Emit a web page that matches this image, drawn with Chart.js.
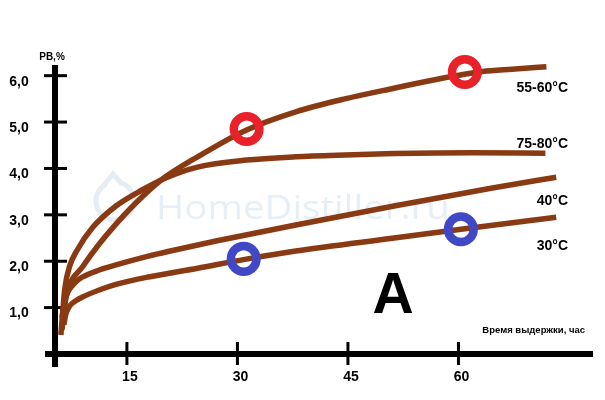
<!DOCTYPE html>
<html>
<head>
<meta charset="utf-8">
<script src="https://cdn.jsdelivr.net/npm/chart.js@4.4.0/dist/chart.umd.min.js"></script>
<style>
  html, body { margin: 0; padding: 0; background: #fff; }
  #wrap { width: 605px; height: 400px; }
</style>
</head>
<body>
<div id="wrap"><canvas id="chart" width="605" height="400"></canvas></div>
<script>
// ticks
const xTicks = [15, 30, 45, 60];
const yTicks = [1, 2, 3, 4, 5, 6];

// curves (hours / RB %)
const hours5560 = [6.18, 6.58, 6.98, 8.98, 11.24, 13.51, 16.18, 19.65, 24.59, 31.25, 37.92, 44.59, 51.26, 57.98, 63.27, 67.27, 71.94];
const rb5560 = [0.52, 1.06, 1.38, 1.88, 2.37, 2.8, 3.25, 3.75, 4.25, 4.83, 5.22, 5.5, 5.73, 5.95, 6.09, 6.14, 6.19];

const hours7580 = [6.04, 6.31, 6.58, 7.24, 8.18, 10.31, 13.51, 16.98, 20.18, 24.59, 31.25, 37.92, 44.59, 51.26, 61.93, 71.8];
const rb7580 = [0.41, 0.95, 1.42, 1.9, 2.22, 2.72, 3.19, 3.53, 3.79, 4.03, 4.18, 4.25, 4.29, 4.32, 4.34, 4.33];

const hours40 = [6.18, 6.58, 7.91, 8.98, 11.24, 13.51, 17.91, 20.58, 27.25, 37.92, 51.26, 64.6, 73.27];
const rb40 = [0.78, 1.16, 1.53, 1.66, 1.81, 1.92, 2.11, 2.21, 2.44, 2.78, 3.19, 3.58, 3.81];

const hours30 = [6.44, 6.71, 7.24, 8.18, 8.98, 11.24, 13.51, 17.91, 24.59, 31.0, 37.92, 51.26, 60.33, 73.27];
const rb30 = [0.63, 0.86, 1.04, 1.16, 1.23, 1.38, 1.5, 1.66, 1.85, 2.04, 2.22, 2.5, 2.69, 2.95];

// marked points
const redHours = [31.25, 60.87];
const redRb = [4.85, 6.08];
const blueHours = [30.85, 60.33];
const blueRb = [2.05, 2.69];

const curveLabels = ["55-60°C", "75-80°C", "40°C", "30°C"];

function zip(xs, ys) {
  return xs.map((x, i) => ({ x: x, y: ys[i] }));
}

const brown = "#8a3a12";
const font = "'Liberation Sans', Arial, sans-serif";

function curve(xs, ys) {
  return {
    type: "line",
    data: zip(xs, ys),
    borderColor: brown,
    borderWidth: 5.5,
    pointRadius: 0,
    cubicInterpolationMode: "monotone",
    fill: false,
    order: 1,
    clip: false,
  };
}

function ring(xs, ys, color) {
  return {
    type: "scatter",
    data: zip(xs, ys),
    pointRadius: 12.8,
    pointBorderWidth: 8.5,
    pointBackgroundColor: "rgba(0,0,0,0)",
    pointBorderColor: color,
    showLine: false,
    order: 0,
    clip: false,
  };
}

const axesPlugin = {
  id: "axesPlugin",
  beforeDraw(chart) {
    const ctx = chart.ctx;
    ctx.save();
    ctx.fillStyle = "#fff";
    ctx.fillRect(0, 0, chart.width, chart.height);
    // watermark
    ctx.strokeStyle = "#e4ecf4";
    ctx.lineWidth = 5;
    ctx.beginPath();
    ctx.arc(115, 201, 19, -1.25, Math.PI + 1.1);
    ctx.stroke();
    ctx.beginPath();
    ctx.moveTo(103, 186);
    ctx.lineTo(113, 174);
    ctx.lineTo(122, 184);
    ctx.stroke();
    ctx.fillStyle = "#e6eef6";
    ctx.font = "32px 'Open Sans', sans-serif";
    ctx.textBaseline = "alphabetic";
    ctx.textAlign = "left";
    ctx.translate(156, 219);
    ctx.scale(1.2, 1);
    ctx.fillText("HomeDistiller.ru", 0, 0);
    ctx.restore();
  },
  beforeDatasetsDraw(chart) {
    const ctx = chart.ctx;
    const xs = chart.scales.x;
    const ys = chart.scales.y;
    const x0 = chart.chartArea.left;
    const y0 = ys.getPixelForValue(0);
    ctx.save();
    ctx.strokeStyle = "#000";
    ctx.lineCap = "butt";
    // y axis
    ctx.lineWidth = 6;
    ctx.beginPath();
    ctx.moveTo(x0, 65);
    ctx.lineTo(x0, 367);
    ctx.stroke();
    // x axis
    ctx.beginPath();
    ctx.moveTo(45, y0);
    ctx.lineTo(593, y0);
    ctx.stroke();
    // ticks
    ctx.lineWidth = 3;
    yTicks.forEach((v) => {
      const py = ys.getPixelForValue(v);
      ctx.beginPath();
      ctx.moveTo(44, py);
      ctx.lineTo(67, py);
      ctx.stroke();
    });
    xTicks.forEach((v) => {
      const px = xs.getPixelForValue(v);
      ctx.beginPath();
      ctx.moveTo(px, 342);
      ctx.lineTo(px, 365);
      ctx.stroke();
    });
    // tick labels
    ctx.fillStyle = "#000";
    ctx.font = "bold 14px " + font;
    ctx.textAlign = "center";
    ctx.textBaseline = "middle";
    yTicks.forEach((v) => {
      ctx.fillText(v.toFixed(1).replace(".", ","), 19, ys.getPixelForValue(v) + 6);
    });
    xTicks.forEach((v) => {
      ctx.fillText(String(v), xs.getPixelForValue(v) + 3, 377);
    });
    // axis titles
    ctx.font = "bold 10px " + font;
    ctx.fillText("РВ,%", 52, 57);
    ctx.textAlign = "right";
    ctx.font = "bold 9.5px " + font;
    ctx.fillText("Время выдержки, час", 585, 330);
    ctx.restore();
  },
  afterDraw(chart) {
    const ctx = chart.ctx;
    ctx.save();
    ctx.fillStyle = "#000";
    ctx.textAlign = "right";
    ctx.textBaseline = "middle";
    ctx.font = "bold 14px " + font;
    const labelY = [88, 144, 201, 246];
    curveLabels.forEach((t, i) => {
      ctx.fillText(t, 568, labelY[i]);
    });
    ctx.textAlign = "center";
    ctx.textBaseline = "alphabetic";
    ctx.font = "bold 57px " + font;
    ctx.fillText("A", 393, 313);
    ctx.restore();
  },
};

new Chart(document.getElementById("chart"), {
  data: {
    datasets: [
      ring(redHours, redRb, "#e8212b"),
      ring(blueHours, blueRb, "#4048c6"),
      curve(hours5560, rb5560),
      curve(hours7580, rb7580),
      curve(hours40, rb40),
      curve(hours30, rb30),
    ],
  },
  options: {
    responsive: false,
    animation: false,
    devicePixelRatio: 1,
    layout: { padding: { left: 55, right: 12, top: 65, bottom: 46 } },
    scales: {
      x: { type: "linear", min: 5.24, max: 77.0, display: false },
      y: { type: "linear", min: 0, max: 6.23, display: false },
    },
    plugins: { legend: { display: false }, tooltip: { enabled: false } },
  },
  plugins: [axesPlugin],
});
</script>
</body>
</html>
